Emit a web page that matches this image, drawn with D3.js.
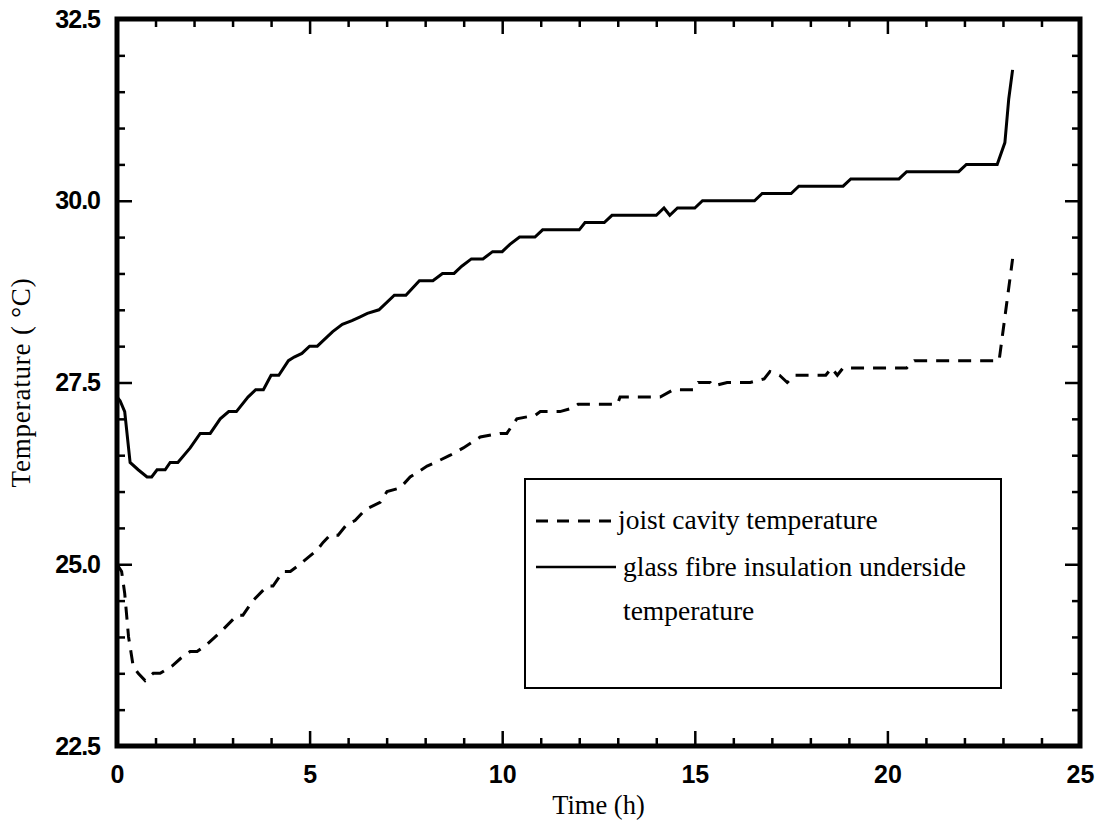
<!DOCTYPE html>
<html><head><meta charset="utf-8">
<script src="https://cdn.jsdelivr.net/npm/d3@7/dist/d3.min.js"></script>
<style>body{margin:0;background:#fff}svg{display:block}</style>
</head><body><svg id="c" width="1106" height="829"></svg>
<script>
const xMajor = [0, 5, 10, 15, 20, 25];
const yMajor = [22.5, 25.0, 27.5, 30.0, 32.5];
const yTickLabels = ["22.5", "25.0", "27.5", "30.0", "32.5"];
const seriesNames = ["joist cavity temperature", "glass fibre insulation underside", "temperature"];

const joistTime = [0,0.12,0.2,0.3,0.42,0.55,0.73,0.94,1.12,1.43,1.64,1.9,2.08,2.34,2.75,3.12,3.27,3.53,3.9,4.05,4.31,4.5,4.75,5.2,5.35,5.53,5.74,5.97,6.18,6.44,6.83,7.01,7.35,7.61,8.05,8.26,8.65,8.99,9.43,9.95,10.12,10.38,10.86,10.99,11.5,11.84,11.97,12.55,12.99,13.06,14.1,14.44,14.96,15.09,15.4,15.48,15.84,16.44,16.8,16.95,17.2,17.4,17.6,18.4,18.55,18.7,18.85,20.5,20.7,22.9,23.1,23.25];
const joistTemp = [25.0,24.9,24.6,24.0,23.6,23.5,23.4,23.5,23.5,23.6,23.7,23.8,23.8,23.9,24.1,24.3,24.3,24.5,24.7,24.7,24.9,24.9,25.0,25.2,25.3,25.4,25.4,25.55,25.6,25.75,25.85,26.0,26.05,26.2,26.35,26.4,26.5,26.6,26.75,26.8,26.8,27.0,27.05,27.1,27.1,27.15,27.2,27.2,27.2,27.3,27.3,27.4,27.4,27.5,27.5,27.45,27.5,27.5,27.55,27.65,27.6,27.5,27.6,27.6,27.7,27.6,27.7,27.7,27.8,27.8,28.6,29.2];

const glassTime = [0,0.08,0.2,0.34,0.55,0.78,0.9,1.04,1.25,1.38,1.58,1.9,2.16,2.42,2.68,2.9,3.1,3.4,3.6,3.8,4.0,4.2,4.45,4.6,4.8,5.0,5.2,5.4,5.6,5.85,6.1,6.3,6.5,6.8,7.2,7.5,7.85,8.2,8.45,8.75,8.95,9.2,9.5,9.75,10.0,10.2,10.45,10.85,11.05,12.0,12.15,12.65,12.85,14.0,14.2,14.35,14.55,15.0,15.2,16.55,16.75,17.5,17.7,18.85,19.05,20.3,20.5,21.85,22.05,22.85,23.05,23.15,23.25];
const glassTemp = [27.3,27.25,27.1,26.4,26.3,26.2,26.2,26.3,26.3,26.4,26.4,26.6,26.8,26.8,27.0,27.1,27.1,27.3,27.4,27.4,27.6,27.6,27.8,27.85,27.9,28.0,28.0,28.1,28.2,28.3,28.35,28.4,28.45,28.5,28.7,28.7,28.9,28.9,29.0,29.0,29.1,29.2,29.2,29.3,29.3,29.4,29.5,29.5,29.6,29.6,29.7,29.7,29.8,29.8,29.9,29.8,29.9,29.9,30.0,30.0,30.1,30.1,30.2,30.2,30.3,30.3,30.4,30.4,30.5,30.5,30.8,31.4,31.8];

const L = 117, R = 1080, T = 19, B = 746;
const x = d3.scaleLinear().domain([0, 25]).range([L, R]);
const y = d3.scaleLinear().domain([22.5, 32.5]).range([B, T]);
const svg = d3.select("#c");

const xMinor = d3.range(0, 26, 1).filter(v => v % 5 !== 0);
const yMinor = d3.range(22.5, 32.51, 0.5).filter(v => Math.abs(((v - 22.5) / 2.5) - Math.round((v - 22.5) / 2.5)) > 1e-6);

function styleAxis(g) {
  g.select(".domain").remove();
  g.selectAll(".tick line").attr("stroke", "#000").attr("stroke-width", 2.5);
}
const tickFont = "'Liberation Sans', Arial, sans-serif";

// bottom
svg.append("g").attr("transform", `translate(0,${B})`)
  .call(d3.axisBottom(x).tickValues(xMinor).tickSize(-8).tickFormat("")).call(styleAxis);
svg.append("g").attr("transform", `translate(0,${B})`)
  .call(d3.axisBottom(x).tickValues(xMajor).tickSize(-15).tickPadding(19).tickFormat(d3.format("d")))
  .call(styleAxis)
  .call(g => g.selectAll("text").attr("font-family", tickFont).attr("font-weight", "bold").attr("font-size", 25).attr("fill", "#000"));
// top
svg.append("g").attr("transform", `translate(0,${T})`)
  .call(d3.axisTop(x).tickValues(xMinor).tickSize(-8).tickFormat("")).call(styleAxis);
svg.append("g").attr("transform", `translate(0,${T})`)
  .call(d3.axisTop(x).tickValues(xMajor).tickSize(-15).tickFormat("")).call(styleAxis);
// left
svg.append("g").attr("transform", `translate(${L},0)`)
  .call(d3.axisLeft(y).tickValues(yMinor).tickSize(-8).tickFormat("")).call(styleAxis);
svg.append("g").attr("transform", `translate(${L},0)`)
  .call(d3.axisLeft(y).tickValues(yMajor).tickSize(-15).tickPadding(17).tickFormat((d, i) => yTickLabels[i]))
  .call(styleAxis)
  .call(g => g.selectAll("text").attr("font-family", tickFont).attr("font-weight", "bold").attr("font-size", 25).attr("fill", "#000").attr("letter-spacing", -1));
// right
svg.append("g").attr("transform", `translate(${R},0)`)
  .call(d3.axisRight(y).tickValues(yMinor).tickSize(-8).tickFormat("")).call(styleAxis);
svg.append("g").attr("transform", `translate(${R},0)`)
  .call(d3.axisRight(y).tickValues(yMajor).tickSize(-15).tickFormat("")).call(styleAxis);

// frame
svg.append("rect").attr("x", L).attr("y", T).attr("width", R - L).attr("height", B - T)
  .attr("fill", "none").attr("stroke", "#000").attr("stroke-width", 5);

// lines
const line = d3.line().x(d => x(d[0])).y(d => y(d[1]));
const joist = joistTime.map((t, i) => [t, joistTemp[i]]);
const glass = glassTime.map((t, i) => [t, glassTemp[i]]);
svg.append("path").datum(joist).attr("d", line).attr("fill", "none").attr("stroke", "#000")
  .attr("stroke-width", 3).attr("stroke-dasharray", "13,9");
svg.append("path").datum(glass).attr("d", line).attr("fill", "none").attr("stroke", "#000")
  .attr("stroke-width", 3);

// axis titles
const serif = "'Liberation Serif', 'Times New Roman', serif";
svg.append("text").attr("x", (L + R) / 2).attr("y", 814).attr("text-anchor", "middle")
  .attr("font-family", serif).attr("font-size", 26.5).attr("fill", "#000").text("Time (h)");
svg.append("text").attr("transform", `translate(30,${(T + B) / 2}) rotate(-90)`).attr("text-anchor", "middle")
  .attr("font-family", serif).attr("font-size", 27).attr("letter-spacing", 0.8).attr("fill", "#000").text("Temperature ( °C)");

// legend
const lg = svg.append("g");
lg.append("rect").attr("x", 525).attr("y", 479).attr("width", 476).attr("height", 209)
  .attr("fill", "#fff").attr("stroke", "#000").attr("stroke-width", 2);
lg.append("line").attr("x1", 536).attr("x2", 614).attr("y1", 521).attr("y2", 521)
  .attr("stroke", "#000").attr("stroke-width", 3).attr("stroke-dasharray", "12,9");
lg.append("line").attr("x1", 536).attr("x2", 616).attr("y1", 567).attr("y2", 567)
  .attr("stroke", "#000").attr("stroke-width", 2.5);
const lt = [[618, 529, seriesNames[0]], [623, 576, seriesNames[1]], [623, 620, seriesNames[2]]];
lt.forEach(d => lg.append("text").attr("x", d[0]).attr("y", d[1]).attr("font-family", serif)
  .attr("font-size", 27.5).attr("fill", "#000").text(d[2]));
</script></body></html>
